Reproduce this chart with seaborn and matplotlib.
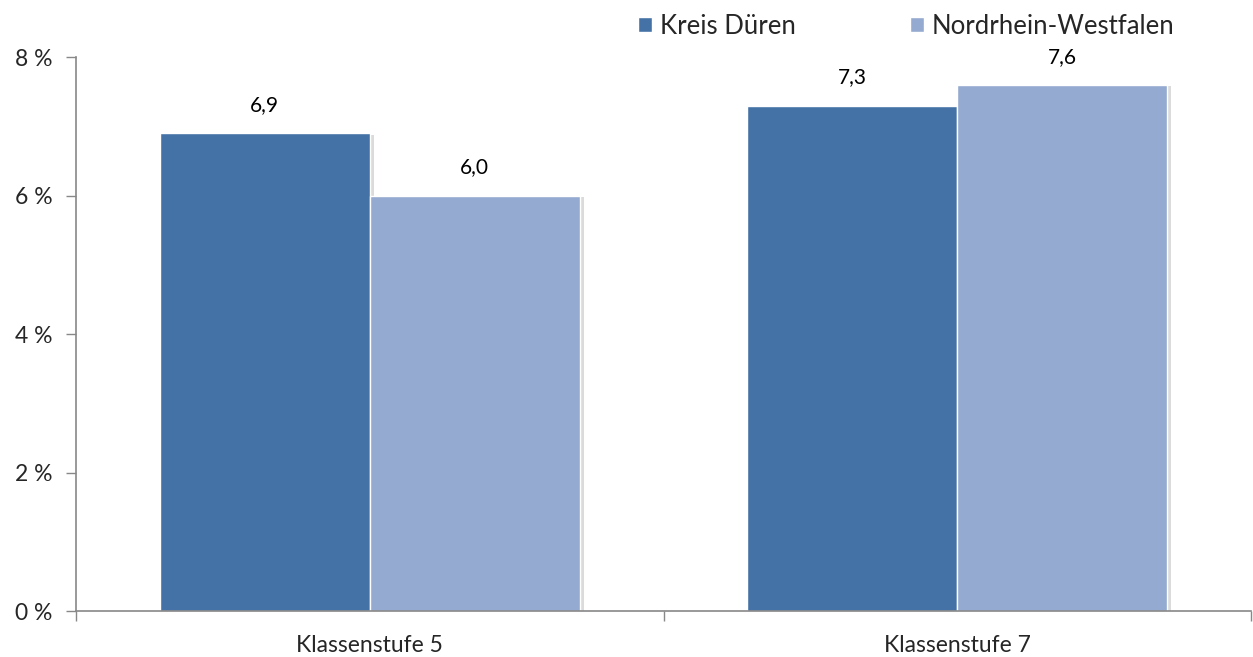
import matplotlib
matplotlib.use('Agg')
import matplotlib.pyplot as plt
import matplotlib.patheffects as pe
import pandas as pd
import seaborn as sns

# Data
categories = ['Klassenstufe 5', 'Klassenstufe 7']
kreis_dueren = [6.9, 7.3]
nrw = [6.0, 7.6]
series_names = ['Kreis Düren', 'Nordrhein-Westfalen']
y_ticks = [0, 2, 4, 6, 8]

df = pd.DataFrame({
    'Klasse': categories * 2,
    'Gebiet': [series_names[0]] * 2 + [series_names[1]] * 2,
    'Wert': kreis_dueren + nrw,
})

sns.set_style('white')
plt.rcParams['font.family'] = ['Lato', 'DejaVu Sans']

fig = plt.figure(figsize=(12.53, 6.57), dpi=100)
ax = fig.add_axes([0.0607, 0.070, 0.9377, 0.843])

palette = {series_names[0]: '#4472A6', series_names[1]: '#95AAD0'}
sns.barplot(data=df, x='Klasse', y='Wert', hue='Gebiet', palette=palette,
            width=0.715, saturation=1, edgecolor='white', linewidth=1,
            ax=ax, legend=True)

# legend first, so the handles don't pick up the shadow
handles, labels = ax.get_legend_handles_labels()
ax.legend(handles, labels, loc='upper left', bbox_to_anchor=(0.4695, 1.097), ncol=2,
          frameon=False, fontsize=18.5, handlelength=0.55, handleheight=0.55,
          handletextpad=0.3, columnspacing=4.45, borderaxespad=0)

# subtle shadow like the office chart
for p in ax.patches:
    p.set_path_effects([pe.SimplePatchShadow(offset=(3, -1), shadow_rgbFace='#999999', alpha=0.35),
                        pe.Normal()])

# value labels
for cont in ax.containers:
    ax.bar_label(cont, labels=[f'{v:.1f}'.replace('.', ',') for v in cont.datavalues],
                 padding=13, fontsize=15, color='#000000')

ax.set_xlim(-0.5, 1.5)
ax.set_ylim(0, 8)
ax.set_yticks(y_ticks)
ax.set_yticklabels([f'{t} %' for t in y_ticks], fontsize=16.5)
ax.set_xticks([0, 1])
ax.set_xticklabels(categories, fontsize=16.5)
ax.set_xlabel('')
ax.set_ylabel('')

# category boundary ticks on x axis
ax.set_xticks([-0.5, 0.5, 1.5], minor=True)
ax.tick_params(axis='x', which='major', length=0, pad=17)
ax.tick_params(axis='x', which='minor', length=7, width=1, color='#888888', direction='out')
ax.tick_params(axis='y', length=7, width=1, color='#888888', direction='out', pad=10)
ax.xaxis.set_tick_params(bottom=True, which='minor')
ax.yaxis.set_tick_params(left=True)

for s in ['top', 'right']:
    ax.spines[s].set_visible(False)
for s in ['left', 'bottom']:
    ax.spines[s].set_color('#888888')
    ax.spines[s].set_linewidth(1.2)

fig.savefig('out.png', dpi=100)
